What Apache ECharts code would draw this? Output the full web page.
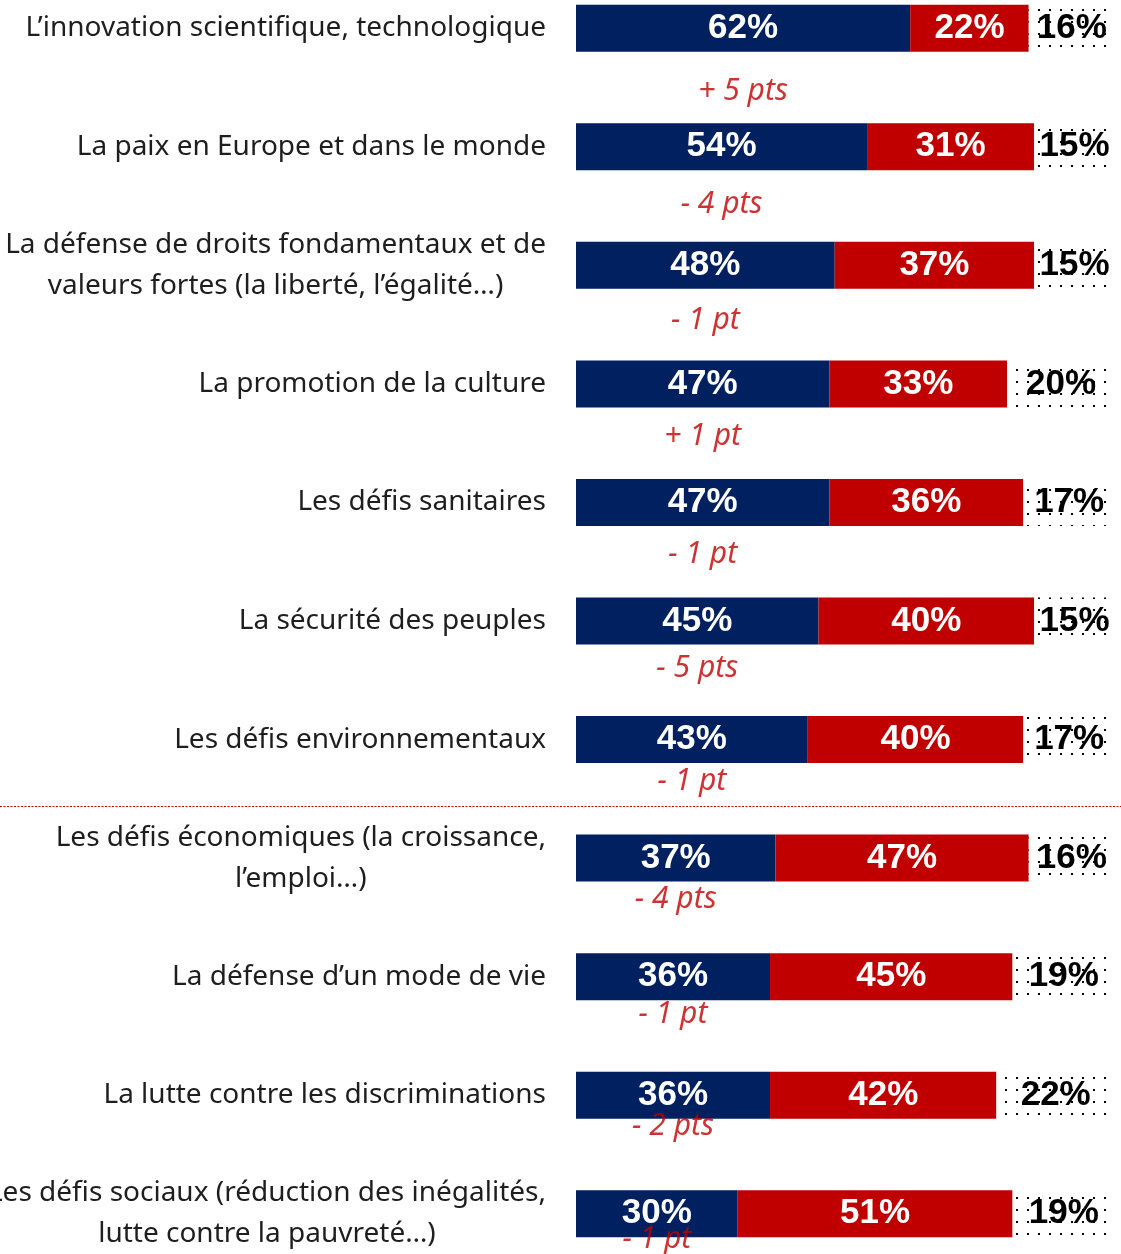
<!DOCTYPE html>
<html>
<head>
<meta charset="utf-8">
<script src="https://cdn.jsdelivr.net/npm/echarts@6/dist/echarts.min.js"></script>
<style>
  html, body { margin: 0; padding: 0; background: #fff; overflow: hidden; }
  #chart { width: 1121px; height: 1304px; margin-top: -31px; }
</style>
</head>
<body>
<div id="chart"></div>
<script>
const categories = [
  "L’innovation scientifique, technologique",
  "La paix en Europe et dans le monde",
  "La défense de droits fondamentaux et de\nvaleurs fortes (la liberté, l’égalité…)",
  "La promotion de la culture",
  "Les défis sanitaires",
  "La sécurité des peuples",
  "Les défis environnementaux",
  "Les défis économiques (la croissance,\nl’emploi…)",
  "La défense d’un mode de vie",
  "La lutte contre les discriminations",
  "Les défis sociaux (réduction des inégalités,\nlutte contre la pauvreté…)"
];
const blueValues = [62, 54, 48, 47, 47, 45, 43, 37, 36, 36, 30];
const redValues = [22, 31, 37, 33, 36, 40, 40, 47, 45, 42, 51];
const otherValues = [16, 15, 15, 20, 17, 15, 17, 16, 19, 22, 19];
const deltas = ["+ 5 pts", "- 4 pts", "- 1 pt", "+ 1 pt", "- 1 pt", "- 5 pts", "- 1 pt", "- 4 pts", "- 1 pt", "- 2 pts", "- 1 pt"];

// layout only: how far below the bar centre each delta text sits
const deltaShift = [63, 58, 55, 53, 52, 47, 42, 41, 38, 31, 26];

const BLUE = '#002060';
const RED = '#C00000';

// sparse dotted fill for the third segment
const tile = document.createElement('canvas');
tile.width = 11; tile.height = 12;
const tctx = tile.getContext('2d');
tctx.fillStyle = '#fff';
tctx.fillRect(0, 0, 11, 12);
tctx.fillStyle = '#000';
tctx.fillRect(4, 4, 2, 2);

const chart = echarts.init(document.getElementById('chart'));

const valueLabel = {
  show: true,
  position: 'inside',
  fontFamily: '"Liberation Sans", Arial, sans-serif',
  fontWeight: 'bold',
  fontSize: 35,
  formatter: p => p.value + '%'
};

chart.setOption({
  animation: false,
  grid: { left: 576, right: 6, top: 0, bottom: 0, containLabel: false, outerBoundsMode: 'none' },
  xAxis: { type: 'value', min: 0, max: 100, show: false },
  yAxis: {
    type: 'category',
    inverse: true,
    data: categories,
    axisLine: { show: false },
    axisTick: { show: false },
    splitLine: { show: false },
    axisLabel: {
      margin: 30,
      align: 'right',
      formatter: v => v.split('\n').map(l => '{c|' + l + '}').join('\n'),
      rich: {
        c: {
          align: 'center',
          fontFamily: '"Noto Sans", sans-serif',
          fontSize: 28,
          lineHeight: 41,
          color: '#1e1e1e'
        }
      }
    }
  },
  series: [
    {
      type: 'bar', stack: 'all', barWidth: 47,
      data: blueValues,
      itemStyle: { color: BLUE },
      label: Object.assign({ color: '#fff' }, valueLabel)
    },
    {
      type: 'bar', stack: 'all', barWidth: 47,
      data: redValues,
      itemStyle: { color: RED },
      label: Object.assign({ color: '#fff' }, valueLabel)
    },
    {
      type: 'bar', stack: 'all', barWidth: 47,
      data: otherValues,
      itemStyle: { color: { image: tile, repeat: 'repeat' } },
      label: Object.assign({ color: '#000' }, valueLabel)
    },
    {
      type: 'scatter',
      symbolSize: 0,
      data: blueValues.map((v, i) => ({
        value: [v / 2, i],
        label: { offset: [0, deltaShift[i]] }
      })),
      label: {
        show: true,
        position: 'inside',
        formatter: p => deltas[p.dataIndex],
        fontFamily: '"Noto Sans", sans-serif',
        fontStyle: 'italic',
        fontSize: 30,
        color: RED
      },
      silent: true
    }
  ]
});

// red dotted separator between the environment and economy rows
const y6 = chart.convertToPixel({ yAxisIndex: 0 }, categories[6]);
const y7 = chart.convertToPixel({ yAxisIndex: 0 }, categories[7]);
const sepY = Math.round(y6 + (y7 - y6) * 0.56) + 0.5;
chart.setOption({
  graphic: [{
    type: 'line',
    shape: { x1: 0, y1: sepY, x2: 1121, y2: sepY },
    style: { stroke: RED, lineWidth: 1, lineDash: [2, 1.5] },
    silent: true
  }]
});
</script>
</body>
</html>
